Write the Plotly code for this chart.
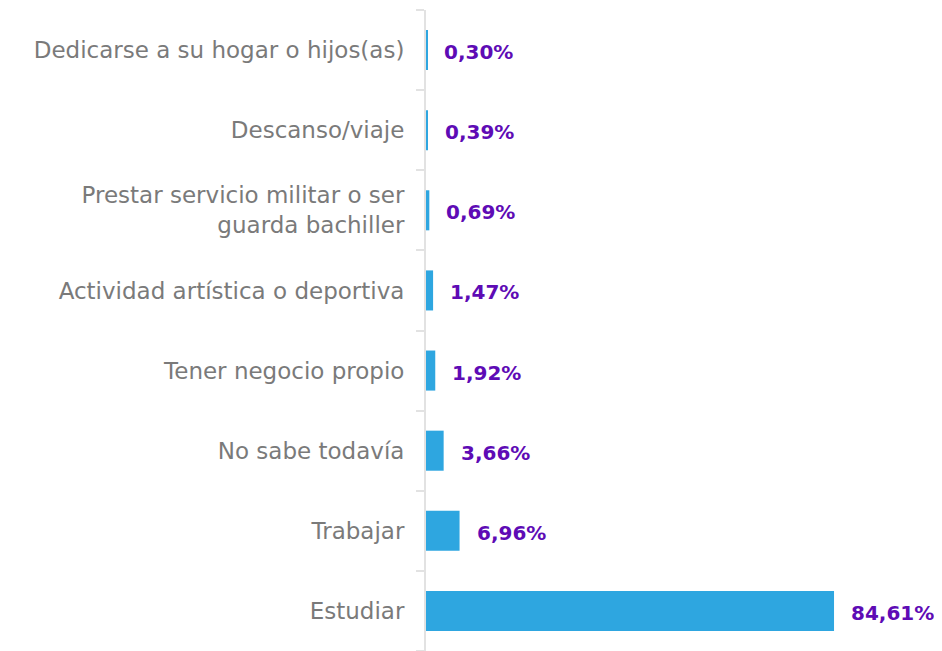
import plotly.graph_objects as go

categories = [
    "Estudiar",
    "Trabajar",
    "No sabe todavía",
    "Tener negocio propio",
    "Actividad artística o deportiva",
    "Prestar servicio militar o ser<br>guarda bachiller",
    "Descanso/viaje",
    "Dedicarse a su hogar o hijos(as)",
]
values = [84.61, 6.96, 3.66, 1.92, 1.47, 0.69, 0.39, 0.30]
labels = ["84,61%", "6,96%", "3,66%", "1,92%", "1,47%", "0,69%", "0,39%", "0,30%"]

fig = go.Figure()
fig.add_trace(go.Bar(
    x=values, y=categories, orientation="h",
    marker=dict(color="#2EA6E0", line=dict(width=0)),
    width=0.5, hoverinfo="skip",
))
for v, c, t in zip(values, categories, labels):
    fig.add_annotation(
        x=v, y=c, text=f"<b>{t}</b>", showarrow=False,
        xanchor="left", yanchor="middle", xshift=15, yshift=-2,
        font=dict(family="DejaVu Sans", size=20, color="#5E0BB5"),
    )

fig.update_layout(
    width=934, height=643,
    margin=dict(l=418, r=0, t=2, b=0, autoexpand=False),
    paper_bgcolor="white", plot_bgcolor="white",
    showlegend=False,
    xaxis=dict(range=[0, 107], visible=False, fixedrange=True, automargin=False),
    yaxis=dict(
        type="category", categoryorder="array", categoryarray=categories,
        range=[-0.5, 7.5], automargin=False,
        showline=True, linecolor="#E2E2E2", linewidth=2,
        ticks="outside", tickson="boundaries", ticklen=8, tickcolor="#E2E2E2", tickwidth=2,
        ticklabelstandoff=15,
        tickfont=dict(family="DejaVu Sans", size=23, color="#7A7A7A"),
        showgrid=False, zeroline=False,
    ),
)
fig.write_html("out.html")
